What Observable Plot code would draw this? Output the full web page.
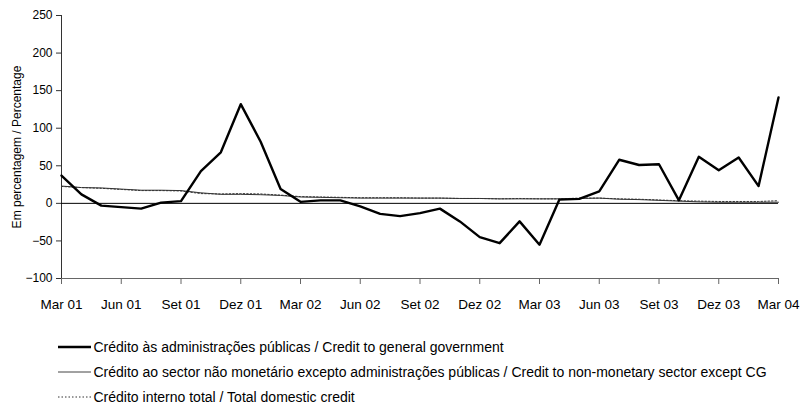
<!DOCTYPE html>
<html><head><meta charset="utf-8">
<script src="https://cdn.jsdelivr.net/npm/d3@7"></script>
<script src="https://cdn.jsdelivr.net/npm/@observablehq/plot@0.6"></script>
<style>
body{margin:0;background:#fff;font-family:"Liberation Sans",Arial,sans-serif;}
#chart svg{display:block;}
#legend{position:relative;height:90px;width:801px;}
.row{position:absolute;left:58px;height:20px;display:flex;align-items:center;font-size:14px;color:#000;white-space:nowrap;}
.row svg{margin-right:2.5px;}
</style></head><body>
<div id="chart"></div>
<div id="legend"></div>
<script>
const months = [
  "Mar 01","Abr 01","Mai 01","Jun 01","Jul 01","Ago 01","Set 01","Out 01","Nov 01","Dez 01","Jan 02","Fev 02",
  "Mar 02","Abr 02","Mai 02","Jun 02","Jul 02","Ago 02","Set 02","Out 02","Nov 02","Dez 02","Jan 03","Fev 03",
  "Mar 03","Abr 03","Mai 03","Jun 03","Jul 03","Ago 03","Set 03","Out 03","Nov 03","Dez 03","Jan 04","Fev 04",
  "Mar 04"
];
const tickLabels = ["Mar 01","Jun 01","Set 01","Dez 01","Mar 02","Jun 02","Set 02","Dez 02","Mar 03","Jun 03","Set 03","Dez 03","Mar 04"];
const yTicks = [-100,-50,0,50,100,150,200,250];

// Crédito às administrações públicas / Credit to general government
const govCredit = [37,12,-3,-5,-7,1,3,43,68,132,82,19,2,4,4,-4,-14,-17,-13,-7,-24,-45,-53,-24,-55,5,6,16,58,51,52,4,62,44,61,23,141];
// Crédito ao sector não monetário excepto administrações públicas
const nonMonetary = [23,21,20.5,19,17.5,17.5,17,14,12,12,11.5,10.5,8.5,8,7.5,7,7,7,7,7,6.5,6.5,6,6,6,6,6.5,7,5.5,5,4,3,2,1.5,1.5,1.5,1.5];
// Crédito interno total / Total domestic credit
const domesticTotal = [22.5,21,20,18.5,17,17,16.5,13,12.5,13,12.5,11,9,8.5,8,7.5,7.5,7.5,7,7,6.5,6.5,6,6.5,6,6,7,7,6,5.5,4.5,3.5,3,2.5,2.5,2.5,3.5];

const legendItems = [
  {label:"Crédito às administrações públicas / Credit to general government", width:2.4, dash:null, color:"#000"},
  {label:"Crédito ao sector não monetário excepto administrações públicas / Credit to non-monetary sector except CG", width:1, dash:null, color:"#444"},
  {label:"Crédito interno total / Total domestic credit", width:1, dash:"1.5,2", color:"#333"}
];

const rows = months.map((m,i)=>({i, m, gov:govCredit[i], nm:nonMonetary[i], tot:domesticTotal[i]}));
const tickIdx = tickLabels.map(t => months.indexOf(t));

const chart = Plot.plot({
  width:801, height:320,
  marginLeft:61, marginRight:23, marginTop:15, marginBottom:42,
  style:{fontFamily:"'Liberation Sans', Arial, sans-serif", background:"#fff"},
  x:{type:"linear", domain:[0, months.length-1]},
  y:{domain:[-100,250]},
  marks:[
    Plot.ruleX([0], {stroke:"#333", strokeWidth:1}),
    Plot.ruleY([-100], {stroke:"#666", strokeWidth:1}),
    Plot.ruleY([0], {stroke:"#000", strokeWidth:1}),
    Plot.line(rows, {x:"i", y:"nm", stroke:"#333", strokeWidth:1}),
    Plot.line(rows, {x:"i", y:"tot", stroke:"#333", strokeWidth:1, strokeDasharray:"1.5,2"}),
    Plot.line(rows, {x:"i", y:"gov", stroke:"#000", strokeWidth:2.4}),
    Plot.axisY({ticks:yTicks, tickSize:5, tickPadding:4, fontSize:12, stroke:"#333",
      label:"Em percentagem / Percentage", labelAnchor:"center", labelArrow:"none", labelOffset:49}),
    Plot.axisX({ticks:tickIdx, tickFormat:i => months[i], tickSize:6, tickPadding:15, fontSize:13.5, stroke:"#666", label:null})
  ]
});
document.getElementById("chart").appendChild(chart);

const legend = document.getElementById("legend");
legendItems.forEach((it, k) => {
  const row = document.createElement("div");
  row.className = "row";
  row.style.top = (17 + k*25) + "px";
  const ns = "http://www.w3.org/2000/svg";
  const s = document.createElementNS(ns, "svg");
  s.setAttribute("width", 33); s.setAttribute("height", 10);
  const l = document.createElementNS(ns, "line");
  l.setAttribute("x1", 0); l.setAttribute("x2", 33); l.setAttribute("y1", 5); l.setAttribute("y2", 5);
  l.setAttribute("stroke", it.color); l.setAttribute("stroke-width", it.width);
  if (it.dash) l.setAttribute("stroke-dasharray", it.dash);
  s.appendChild(l);
  row.appendChild(s);
  const span = document.createElement("span");
  span.textContent = it.label;
  row.appendChild(span);
  legend.appendChild(row);
});
</script>
</body></html>
